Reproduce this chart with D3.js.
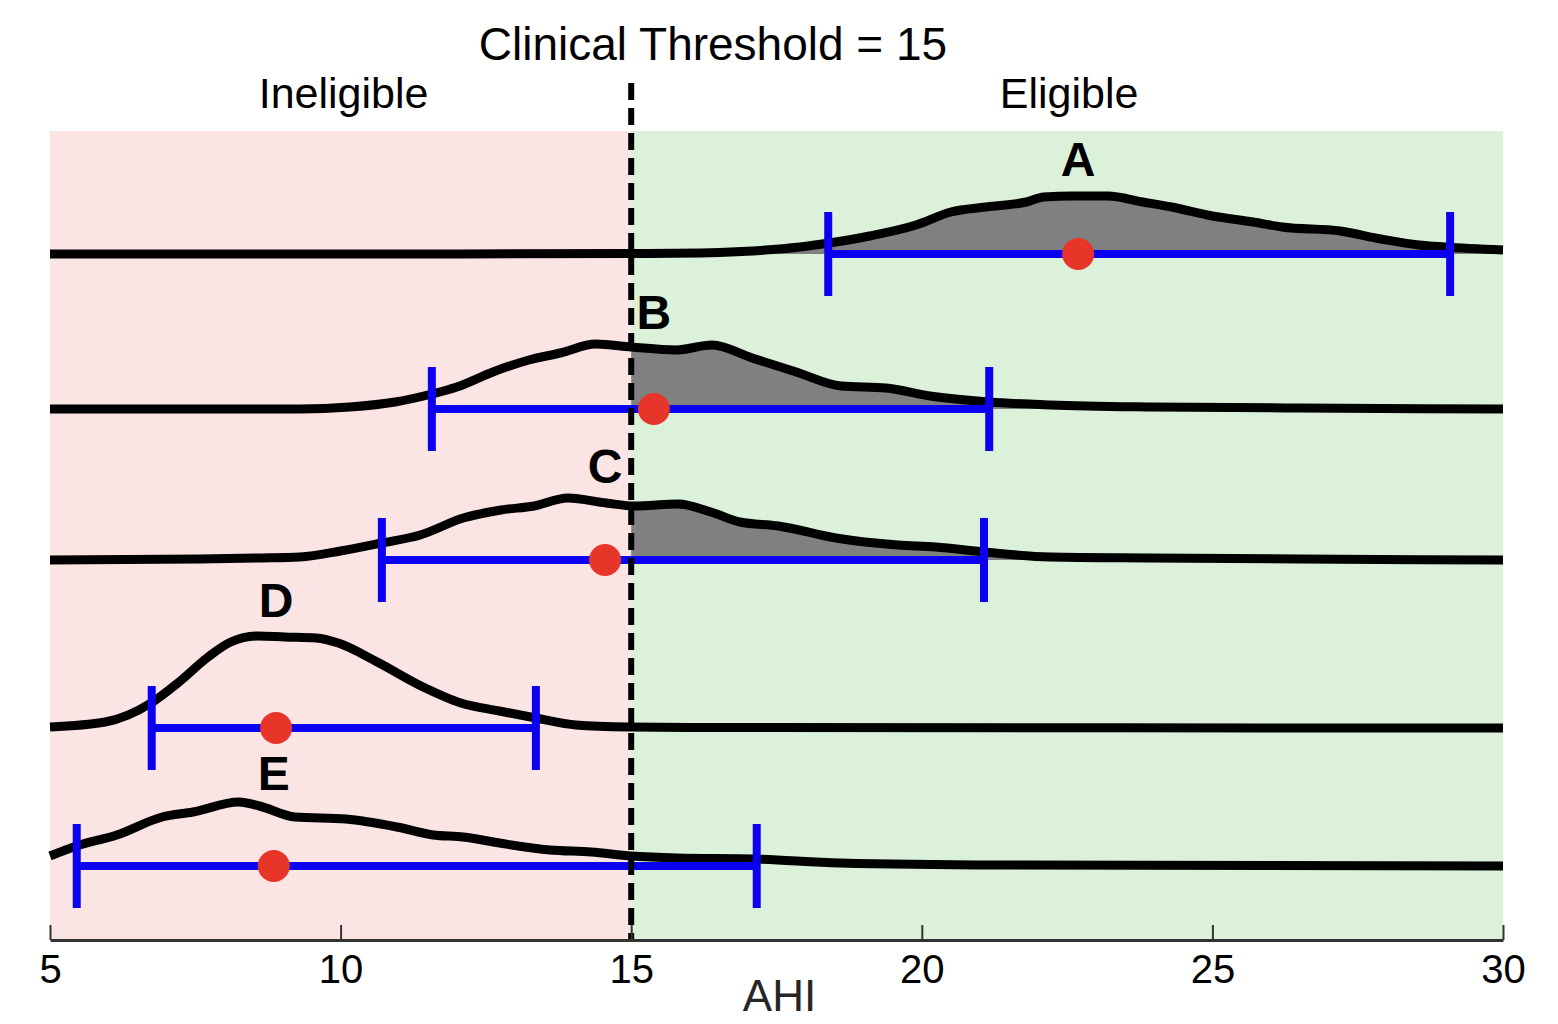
<!DOCTYPE html>
<html><head><meta charset="utf-8">
<script src="https://cdn.jsdelivr.net/npm/d3@7"></script>
<style>
body{margin:0;background:#fff}
svg{display:block}
text{font-family:"Liberation Sans",Arial,Helvetica,sans-serif}
</style>
</head><body>
<svg id="chart" width="1558" height="1024"></svg>
<script>
// ---------------- data ----------------
const labels   = ["A", "B", "C", "D", "E"];
const means    = [22.69, 15.39, 14.55, 8.89, 8.85];
const ciLow    = [18.39, 11.57, 10.71, 6.75, 5.46];
const ciHigh   = [29.09, 21.16, 21.07, 13.36, 17.16];
const rowOffsets = [6.86, 5.31, 3.80, 2.12, 0.74];   // ridge baselines (y units)
const shaded   = [true, true, true, false, false];    // area above threshold shown
const threshold = 15;
const xTicks   = [5, 10, 15, 20, 25, 30];
const regionNames = ["Ineligible", "Eligible"];
const titleText = "Clinical Threshold = 15";
const xLabel = "AHI";

const densityA = [[5,0],[12,0],[15,0.005],[16.2,0.01],[16.9,0.025],[17.9,0.07],[18.4,0.11],[19.1,0.18],[19.9,0.29],[20.5,0.42],[21.1,0.47],[21.8,0.52],[22.1,0.57],[22.6,0.58],[23.2,0.58],[23.8,0.52],[24.3,0.47],[25.0,0.38],[25.7,0.32],[26.2,0.27],[27.2,0.23],[27.9,0.15],[28.55,0.09],[29.0,0.07],[30,0.04]];
const densityB = [[5,0],[9.3,0],[10.16,0.02],[10.94,0.07],[11.57,0.15],[12.0,0.22],[12.62,0.37],[13.24,0.49],[13.78,0.56],[14.39,0.65],[15.0,0.62],[15.77,0.59],[16.39,0.64],[17.08,0.51],[17.84,0.37],[18.61,0.23],[19.38,0.21],[20.14,0.13],[21.16,0.07],[22.21,0.04],[23.93,0.02],[26.5,0.01],[30,0]];
const densityC = [[5,0],[7.58,0.01],[8.6,0.02],[9.3,0.03],[10.0,0.09],[10.71,0.17],[11.37,0.25],[12.11,0.42],[12.76,0.50],[13.33,0.54],[13.91,0.62],[14.57,0.57],[15.06,0.54],[15.81,0.56],[16.37,0.48],[16.87,0.38],[17.53,0.34],[18.52,0.22],[19.59,0.15],[20.24,0.13],[21.07,0.08],[22.21,0.03],[23.93,0.02],[26.5,0.01],[30,0]];
const densityD = [[5,0.01],[5.95,0.06],[6.74,0.25],[7.2,0.45],[7.72,0.71],[8.11,0.86],[8.58,0.92],[9.04,0.91],[9.58,0.90],[9.96,0.85],[10.63,0.66],[11.42,0.41],[12.07,0.25],[12.73,0.17],[13.36,0.10],[14.05,0.03],[14.96,0.01],[16,0.005],[30,0]];
const densityE = [[5,0.10],[5.46,0.20],[6.15,0.31],[6.93,0.49],[7.46,0.54],[8.25,0.64],[8.6,0.60],[9.22,0.49],[10.09,0.47],[10.97,0.39],[11.59,0.31],[12.11,0.29],[12.73,0.23],[13.6,0.16],[14.31,0.14],[15.0,0.10],[15.8,0.08],[17.11,0.07],[18.59,0.03],[21.35,0.01],[30,0]];
const densities = [densityA, densityB, densityC, densityD, densityE];

(function () {
// ---------------- layout ----------------
const svg = d3.select("#chart");
const pLeft = 50, pRight = 1503, pTop = 131, pBottom = 940;
const x = d3.scaleLinear().domain([5, 30]).range([pLeft, pRight]);
const y = d3.scaleLinear().domain([0, (pBottom - pTop) / 100]).range([pBottom, pTop]);

const C = {pink:"#fbe5e4", green:"#dbf1d9", fill:"#808080", blue:"#0c00f0", red:"#e8352a"};

// backgrounds
svg.append("rect").attr("x", x(5)).attr("y", pTop).attr("width", x(threshold) - x(5)).attr("height", pBottom - pTop).attr("fill", C.pink);
svg.append("rect").attr("x", x(threshold)).attr("y", pTop).attr("width", x(30) - x(threshold)).attr("height", pBottom - pTop).attr("fill", C.green);

// clip for threshold shading
svg.append("clipPath").attr("id", "above").append("rect")
  .attr("x", x(threshold)).attr("y", 0).attr("width", x(30) - x(threshold)).attr("height", 1024);

const rows = labels.map((l, i) => ({label:l, mean:means[i], lo:ciLow[i], hi:ciHigh[i], off:rowOffsets[i], dens:densities[i], shade:shaded[i]}));

function densAt(dens, v) {
  const i = d3.bisector(d => d[0]).right(dens, v);
  if (i <= 0) return dens[0][1];
  if (i >= dens.length) return dens[dens.length - 1][1];
  const a = dens[i - 1], b = dens[i];
  return a[1] + (b[1] - a[1]) * (v - a[0]) / (b[0] - a[0]);
}

const curve = d3.curveMonotoneX;
const g = svg.append("g");

rows.forEach(r => {
  const area = d3.area().curve(curve).x(d => x(d[0])).y0(y(r.off)).y1(d => y(r.off + d[1]));
  if (r.shade) {
    g.append("path").attr("d", area(r.dens)).attr("fill", C.fill).attr("clip-path", "url(#above)");
  }
});
rows.forEach(r => {
  const line = d3.line().curve(curve).x(d => x(d[0])).y(d => y(r.off + d[1]));
  g.append("path").attr("d", line(r.dens)).attr("fill", "none").attr("stroke", "#000")
    .attr("stroke-width", 9).attr("stroke-linejoin", "round");
});
rows.forEach(r => {
  const yb = y(r.off);
  g.append("line").attr("x1", x(r.lo)).attr("x2", x(r.hi)).attr("y1", yb).attr("y2", yb)
    .attr("stroke", C.blue).attr("stroke-width", 8);
  [r.lo, r.hi].forEach(v => {
    g.append("line").attr("x1", x(v)).attr("x2", x(v)).attr("y1", yb - 42).attr("y2", yb + 42)
      .attr("stroke", C.blue).attr("stroke-width", 8);
  });
});

// threshold dashed line
svg.append("line").attr("x1", x(threshold)).attr("x2", x(threshold)).attr("y1", 83).attr("y2", pBottom)
  .attr("stroke", "#000").attr("stroke-width", 6).attr("stroke-dasharray", "17,8");

rows.forEach(r => {
  const yb = y(r.off);
  svg.append("circle").attr("cx", x(r.mean)).attr("cy", yb).attr("r", 16).attr("fill", C.red);
  const h = densAt(r.dens, r.mean);
  svg.append("text").attr("x", x(r.mean)).attr("y", y(r.off + h) - 20)
    .attr("text-anchor", "middle").attr("font-size", 48).attr("font-weight", "bold")
    .attr("fill", "#000").text(r.label);
});

// axis
const axis = d3.axisBottom(x).tickValues(xTicks).tickSizeInner(-15).tickSizeOuter(0).tickPadding(15).tickFormat(d3.format("d"));
const ax = svg.append("g").attr("transform", `translate(0,${pBottom})`).call(axis);
ax.select(".domain").attr("stroke", "#333").attr("stroke-width", 3);
ax.selectAll(".tick line").attr("stroke", "#333").attr("stroke-width", 2);
ax.selectAll(".tick text").attr("font-size", 40).attr("fill", "#000")
  .attr("font-family", '"Liberation Sans",Arial,Helvetica,sans-serif');

svg.append("text").attr("x", (x(5) + x(30)) / 2 + 3).attr("y", 1011).attr("text-anchor", "middle")
  .attr("font-size", 44).attr("fill", "#262626").text(xLabel);

// titles
svg.append("text").attr("x", 713).attr("y", 60).attr("text-anchor", "middle")
  .attr("font-size", 46).attr("fill", "#000").text(titleText);
svg.append("text").attr("x", x((5 + threshold) / 2) + 3).attr("y", 108).attr("text-anchor", "middle")
  .attr("font-size", 43).attr("fill", "#000").text(regionNames[0]);
svg.append("text").attr("x", x((threshold + 30) / 2) + 2).attr("y", 108).attr("text-anchor", "middle")
  .attr("font-size", 43).attr("fill", "#000").text(regionNames[1]);
})();
</script>
</body></html>
